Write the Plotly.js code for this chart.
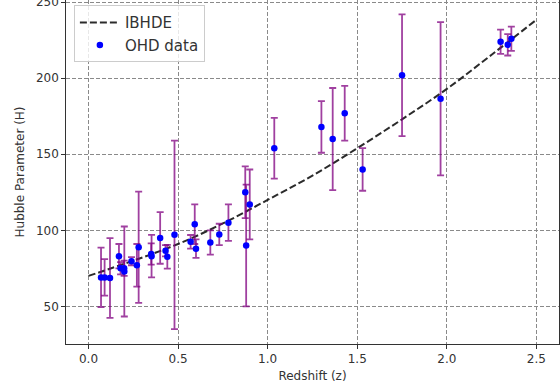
<!DOCTYPE html>
<html>
<head>
<meta charset="utf-8">
<script src="https://cdn.plot.ly/plotly-3.0.1.min.js"></script>
<style>html,body{margin:0;padding:0;background:#fff;}#chart{width:560px;height:389px;}</style>
</head>
<body>
<div id="chart"></div>
<script>
// OHD data
var zData = [0.07, 0.09, 0.12, 0.17, 0.179, 0.199, 0.2, 0.24, 0.27, 0.28, 0.35, 0.352, 0.4, 0.43, 0.44, 0.48, 0.57, 0.593, 0.6, 0.68, 0.73, 0.781, 0.875, 0.88, 0.9, 1.037, 1.3, 1.363, 1.43, 1.53, 1.75, 1.965, 2.3, 2.34, 2.36];
var hData = [69, 69, 68.6, 83, 75, 75, 72.9, 79.7, 77, 88.8, 84.4, 83, 95, 86.5, 82.6, 97, 92.4, 104, 87.9, 92, 97.3, 105, 125, 90, 117, 154, 168, 160, 177, 140, 202, 186.5, 224, 222, 226];
var hErr  = [19.6, 12, 26.2, 8, 4, 5, 29.6, 2.7, 14, 36.6, 7, 14, 17, 3.7, 7.8, 62, 4.5, 13, 6.1, 8, 7, 12, 17, 40, 23, 20, 17, 33.6, 18, 14, 40, 50.4, 8, 7, 8];

// IBHDE model curve
var zModel = [0, 0.25, 0.5, 0.75, 1.0, 1.25, 1.5, 1.75, 2.0, 2.25, 2.5];
var hModel = [70, 80, 91, 104.5, 120, 136, 154, 173, 193, 215.5, 238.5];

var xTicks = [0, 0.5, 1.0, 1.5, 2.0, 2.5];
var yTicks = [50, 100, 150, 200, 250];

var traces = [
  {
    x: zModel, y: hModel, type: 'scatter', mode: 'lines', name: 'IBHDE',
    line: {color: 'rgba(20,20,20,0.9)', width: 2, dash: '7px,3px', shape: 'spline', smoothing: 1.0}
  },
  {
    x: zData, y: hData, type: 'scatter', mode: 'markers', name: 'OHD data',
    marker: {color: '#0000ff', size: 6.5},
    error_y: {type: 'data', array: hErr, visible: true, color: 'rgba(128,0,128,0.75)', thickness: 1.8, width: 3.5}
  }
];

var axisCommon = {
  showline: true, linecolor: '#333', linewidth: 1.2,
  ticks: 'outside', ticklen: 3.5, tickwidth: 1, tickcolor: '#333',
  showgrid: true, gridcolor: '#8a8a8a', gridwidth: 1, griddash: '4px,2px',
  zeroline: false, ticklabeloverflow: 'allow',
  tickfont: {family: 'DejaVu Sans', size: 12, color: '#333'}
};

var layout = {
  width: 560, height: 389,
  margin: {l: 66, r: 1, t: 0, b: 45},
  paper_bgcolor: '#fff', plot_bgcolor: '#fff',
  showlegend: true,
  legend: {
    x: 0.016, y: 0.985, xanchor: 'left', yanchor: 'top',
    bgcolor: 'rgba(255,255,255,0.8)', bordercolor: '#cccccc', borderwidth: 1,
    itemwidth: 40, tracegroupgap: 4,
    font: {family: 'DejaVu Sans', size: 15, color: '#333'}
  },
  xaxis: Object.assign({}, axisCommon, {
    mirror: false,
    range: [-0.1255, 2.626], tickvals: xTicks, tickformat: '.1f',
    title: {text: 'Redshift (z)', font: {family: 'DejaVu Sans', size: 12, color: '#333'}, standoff: 6}
  }),
  yaxis: Object.assign({}, axisCommon, {
    mirror: true,
    range: [25.2, 251.5], tickvals: yTicks,
    title: {text: 'Hubble Parameter (H)', font: {family: 'DejaVu Sans', size: 12, color: '#333'}, standoff: 8}
  })
};

Plotly.newPlot('chart', traces, layout, {displayModeBar: false, staticPlot: true});
</script>
</body>
</html>
